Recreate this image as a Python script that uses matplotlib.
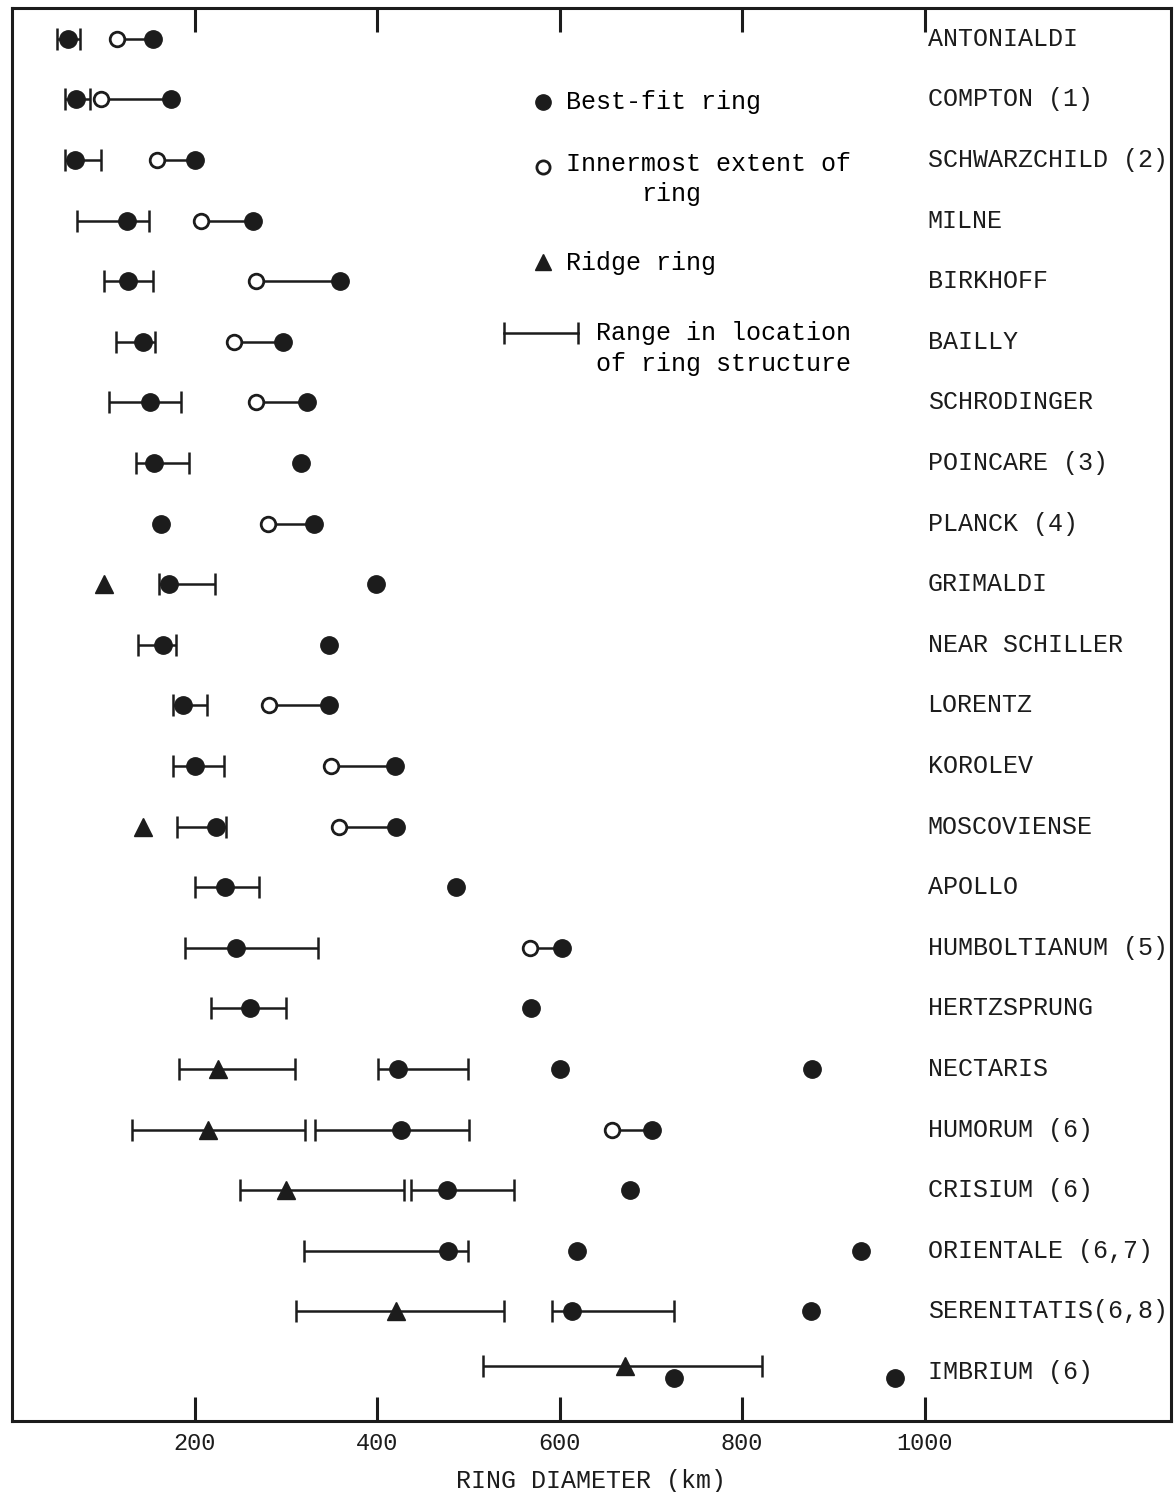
import matplotlib.pyplot as plt

plt.rcParams['font.family'] = ['Liberation Mono', 'DejaVu Sans Mono']

ink = '#1c1c1c'

craters = ['ANTONIALDI', 'COMPTON', 'SCHWARZCHILD', 'MILNE', 'BIRKHOFF',
           'BAILLY', 'SCHRODINGER', 'POINCARE', 'PLANCK', 'GRIMALDI',
           'NEAR SCHILLER', 'LORENTZ', 'KOROLEV', 'MOSCOVIENSE', 'APOLLO',
           'HUMBOLTIANUM', 'HERTZSPRUNG', 'NECTARIS', 'HUMORUM', 'CRISIUM',
           'ORIENTALE', 'SERENITATIS', 'IMBRIUM']
notes = ['', ' (1)', ' (2)', '', '', '', '', ' (3)', ' (4)', '', '', '', '',
         '', '', ' (5)', '', '', ' (6)', ' (6)', ' (6,7)', '(6,8)', ' (6)']

# best-fit ring diameters (km)
best_fit = [
    ('ANTONIALDI', 61), ('ANTONIALDI', 154),
    ('COMPTON', 70), ('COMPTON', 174),
    ('SCHWARZCHILD', 69), ('SCHWARZCHILD', 201),
    ('MILNE', 126), ('MILNE', 264),
    ('BIRKHOFF', 127), ('BIRKHOFF', 359),
    ('BAILLY', 144), ('BAILLY', 297),
    ('SCHRODINGER', 151), ('SCHRODINGER', 323),
    ('POINCARE', 156), ('POINCARE', 317),
    ('PLANCK', 163), ('PLANCK', 331),
    ('GRIMALDI', 172), ('GRIMALDI', 399),
    ('NEAR SCHILLER', 165), ('NEAR SCHILLER', 347),
    ('LORENTZ', 187), ('LORENTZ', 347),
    ('KOROLEV', 201), ('KOROLEV', 420),
    ('MOSCOVIENSE', 223), ('MOSCOVIENSE', 421),
    ('APOLLO', 233), ('APOLLO', 487),
    ('HUMBOLTIANUM', 246), ('HUMBOLTIANUM', 603),
    ('HERTZSPRUNG', 261), ('HERTZSPRUNG', 569),
    ('NECTARIS', 423), ('NECTARIS', 600), ('NECTARIS', 877),
    ('HUMORUM', 426), ('HUMORUM', 701),
    ('CRISIUM', 477), ('CRISIUM', 677),
    ('ORIENTALE', 478), ('ORIENTALE', 619), ('ORIENTALE', 930),
    ('SERENITATIS', 614), ('SERENITATIS', 876),
    ('IMBRIUM', 725), ('IMBRIUM', 968),
]

# innermost extent of a ring -> the best-fit ring it belongs to (km)
inner_extent = [
    ('ANTONIALDI', 115, 154), ('COMPTON', 97, 174),
    ('SCHWARZCHILD', 159, 201), ('MILNE', 207, 264),
    ('BIRKHOFF', 267, 359), ('BAILLY', 243, 297),
    ('SCHRODINGER', 267, 323), ('PLANCK', 281, 331),
    ('LORENTZ', 282, 347), ('KOROLEV', 350, 420),
    ('MOSCOVIENSE', 358, 421), ('HUMBOLTIANUM', 568, 603),
    ('HUMORUM', 657, 701),
]

# ridge rings (km)
ridge = [('GRIMALDI', 101), ('MOSCOVIENSE', 144), ('NECTARIS', 226),
         ('HUMORUM', 215), ('CRISIUM', 300), ('SERENITATIS', 421),
         ('IMBRIUM', 672)]

# range in location of ring structure (km)
ranges = [
    ('ANTONIALDI', 49, 75), ('COMPTON', 58, 85), ('SCHWARZCHILD', 58, 97),
    ('MILNE', 71, 150), ('BIRKHOFF', 101, 154), ('BAILLY', 114, 157),
    ('SCHRODINGER', 106, 185), ('POINCARE', 136, 194),
    ('GRIMALDI', 161, 222), ('NEAR SCHILLER', 138, 180),
    ('LORENTZ', 176, 214), ('KOROLEV', 176, 232),
    ('MOSCOVIENSE', 181, 235), ('APOLLO', 200, 271),
    ('HUMBOLTIANUM', 190, 335), ('HERTZSPRUNG', 218, 300),
    ('NECTARIS', 183, 310), ('NECTARIS', 401, 500),
    ('HUMORUM', 131, 321), ('HUMORUM', 332, 501),
    ('CRISIUM', 250, 429), ('CRISIUM', 437, 550),
    ('ORIENTALE', 320, 500),
    ('SERENITATIS', 311, 539), ('SERENITATIS', 592, 725),
    ('IMBRIUM', 516, 822),
]

xticks = [200, 400, 600, 800, 1000]


def row(name, part='dot'):
    # Imbrium's ranges sit a little above its dots
    r = craters.index(name)
    if name == 'IMBRIUM':
        r += -0.1 if part == 'range' else 0.1
    return r


fig = plt.figure(figsize=(11.74, 14.92), dpi=100)
ax = fig.add_axes([12 / 1174, 1 - 1421 / 1492, 1159 / 1174, 1413 / 1492])

for name, lo, hi in ranges:
    ax.errorbar((lo + hi) / 2, row(name, 'range'), xerr=(hi - lo) / 2,
                fmt='none', ecolor=ink, elinewidth=1.8, capsize=8,
                capthick=1.8, zorder=2)

for name, inner, outer in inner_extent:
    ax.plot([inner, outer], [row(name)] * 2, color=ink, lw=1.8, zorder=2)

ax.plot([v for _, v in best_fit], [row(n) for n, _ in best_fit], 'o',
        color=ink, ms=12.5, zorder=3)
ax.plot([v for _, v, _ in inner_extent], [row(n) for n, _, _ in inner_extent],
        'o', mfc='white', mec=ink, mew=2, ms=10.5, zorder=4)
ax.plot([v for _, v in ridge], [row(n, 'range') for n, _ in ridge], '^',
        color=ink, ms=12.5, zorder=3)

for i, (c, note) in enumerate(zip(craters, notes)):
    ax.text(0.790, i, c + note, transform=ax.get_yaxis_transform(),
            fontsize=18, color=ink, va='center', ha='left')

# key
T = ax.transAxes
ax.plot([0.458], [0.9335], 'o', color=ink, ms=11, transform=T)
ax.text(0.478, 0.9335, 'Best-fit ring', transform=T, fontsize=18, va='center')
ax.plot([0.458], [0.8875], 'o', mfc='white', mec=ink, mew=2, ms=9.5,
        transform=T)
ax.text(0.478, 0.8896, 'Innermost extent of', transform=T, fontsize=18,
        va='center')
ax.text(0.5427, 0.8684, 'ring', transform=T, fontsize=18, va='center')
ax.plot([0.458], [0.8202], '^', color=ink, ms=11, transform=T)
ax.text(0.478, 0.8195, 'Ridge ring', transform=T, fontsize=18, va='center')
ax.plot([0.4245, 0.4883], [0.770, 0.770], color=ink, lw=1.8, transform=T)
ax.plot([0.4245, 0.4883], [0.770, 0.770], '|', color=ink, ms=16, mew=1.8,
        transform=T)
ax.text(0.5039, 0.770, 'Range in location', transform=T, fontsize=18,
        va='center')
ax.text(0.5039, 0.748, 'of ring structure', transform=T, fontsize=18,
        va='center')

ax.set_xlim(0, 1270)
ax.set_ylim(22.81, -0.51)
ax.set_xticks(xticks)
ax.set_yticks([])
ax.tick_params(axis='x', direction='in', length=17, width=2.2, top=True,
               labelsize=17, pad=8, colors=ink)
ax.set_xlabel('RING DIAMETER (km)', fontsize=18, labelpad=10, color=ink)
for s in ax.spines.values():
    s.set_linewidth(2.2)
    s.set_color(ink)

fig.savefig('out.png', dpi=100)
